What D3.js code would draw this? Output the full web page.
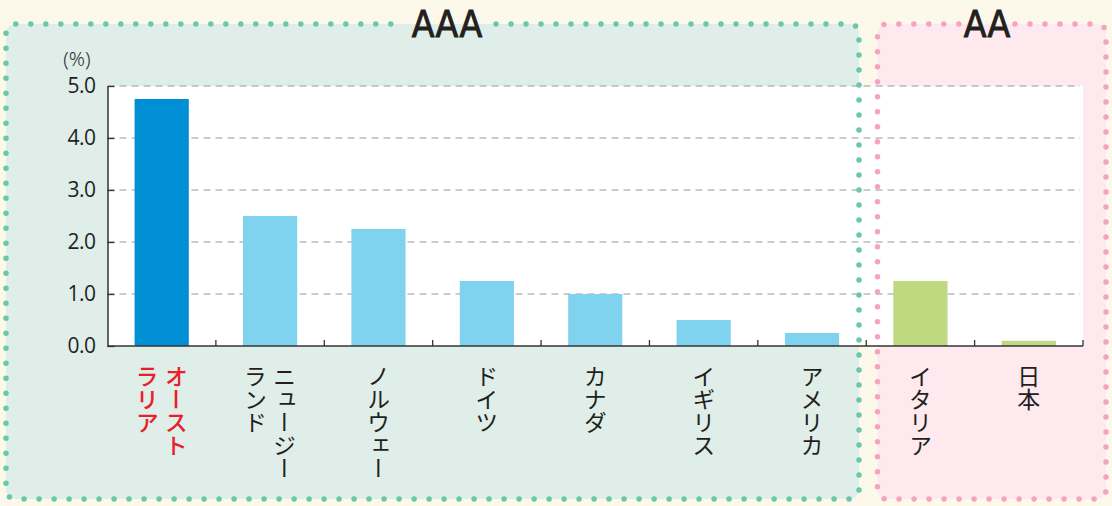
<!DOCTYPE html>
<html><head><meta charset="utf-8">
<script src="https://cdn.jsdelivr.net/npm/d3@7"></script>
<style>
html,body{margin:0;padding:0;background:#fdf9ea;}
svg{display:block;}
</style></head>
<body>
<svg id="chart" width="1112" height="506"></svg>
<script>
// ---- data ----
const categories = ["オーストラリア","ニュージーランド","ノルウェー","ドイツ","カナダ","イギリス","アメリカ","イタリア","日本"];
const labelColumns = [["オースト","ラリア"],["ニュージー","ランド"],["ノルウェー"],["ドイツ"],["カナダ"],["イギリス"],["アメリカ"],["イタリア"],["日本"]];
const values = [4.75, 2.5, 2.25, 1.25, 1.0, 0.5, 0.25, 1.25, 0.1];
const ratings = ["AAA","AAA","AAA","AAA","AAA","AAA","AAA","AA","AA"];
const highlight = ["オーストラリア"];
const yTicks = [0, 1, 2, 3, 4, 5];
const yUnit = "(%)";

// ---- layout ----
const W = 1112, H = 506;
const plot = {left: 107.5, right: 1083, top: 86, bottom: 346};
const svg = d3.select("#chart");

const x = d3.scaleBand().domain(categories).range([plot.left, plot.right]).paddingInner(0.5).paddingOuter(0.25);
const y = d3.scaleLinear().domain([0, 5]).range([plot.bottom, plot.top]);

const groupStyle = {
  AAA: {fill: "#dfeee8", dot: "#68c8a8", x0: 6, x1: 859, y0: 24, y1: 499, bar: "#80d3ee"},
  AA:  {fill: "#fde9ee", dot: "#f5a3c0", x0: 877.5, x1: 1106, y0: 24, y1: 499, bar: "#bed97f"}
};

svg.append("rect").attr("width", W).attr("height", H).attr("fill", "#fdf9ea");

// group fills
const groups = ["AAA", "AA"];
groups.forEach(g => {
  const s = groupStyle[g];
  svg.append("rect").attr("x", s.x0).attr("y", s.y0).attr("width", s.x1 - s.x0).attr("height", s.y1 - s.y0)
    .attr("rx", 9).attr("fill", s.fill);
});

// plot white area
svg.append("rect").attr("x", plot.left).attr("y", plot.top).attr("width", plot.right - plot.left)
  .attr("height", plot.bottom - plot.top).attr("fill", "#ffffff");

// grid
svg.append("g").selectAll("line").data(yTicks.filter(d => d > 0)).join("line")
  .attr("x1", plot.left).attr("x2", plot.right - 3)
  .attr("y1", d => y(d)).attr("y2", d => y(d))
  .attr("stroke", "#999").attr("stroke-width", 1.2).attr("stroke-dasharray", "7,5");

// bars
svg.append("g").selectAll("rect").data(categories).join("rect")
  .attr("x", d => x(d)).attr("width", x.bandwidth())
  .attr("y", (d, i) => y(values[i])).attr("height", (d, i) => y(0) - y(values[i]))
  .attr("fill", (d, i) => highlight.includes(d) ? "#008fd5" : groupStyle[ratings[i]].bar);

// y axis
const yAxis = d3.axisLeft(y).tickValues(yTicks).tickFormat(d3.format(".1f")).tickSizeInner(-7).tickSizeOuter(0).tickPadding(12);
const ya = svg.append("g").attr("transform", `translate(${plot.left},0)`).call(yAxis);
ya.select(".domain").attr("stroke", "#333").attr("stroke-width", 1.5);
ya.selectAll(".tick line").attr("stroke", "#333").attr("stroke-width", 1.3);
ya.selectAll(".tick text").attr("font-family", "'Open Sans', 'Noto Sans', sans-serif").attr("font-size", 21)
  .attr("fill", "#231f20").attr("letter-spacing", "-0.5px");
svg.append("text").attr("x", 77).attr("y", 66).attr("text-anchor", "middle")
  .attr("font-family", "'Noto Sans', 'Open Sans', sans-serif").attr("font-weight", 300).attr("font-size", 20).attr("fill", "#333").text(yUnit);

// x axis line + upward ticks at band boundaries
svg.append("line").attr("x1", plot.left).attr("x2", plot.right).attr("y1", plot.bottom).attr("y2", plot.bottom)
  .attr("stroke", "#333").attr("stroke-width", 1.5);
const step = x.step();
svg.append("g").selectAll("line").data(categories).join("line")
  .attr("x1", d => x(d) - x.paddingOuter() * step + step).attr("x2", d => x(d) - x.paddingOuter() * step + step)
  .attr("y1", plot.bottom).attr("y2", plot.bottom - 6)
  .attr("stroke", "#333").attr("stroke-width", 1.3);

// category labels (vertical, columns right-to-left)
const lab = svg.append("g");
categories.forEach((c, i) => {
  const cols = labelColumns[i];
  const cx = x(c) + x.bandwidth() / 2;
  const gap = 29;
  cols.forEach((t, j) => {
    const off = (cols.length - 1) / 2 * gap - j * gap;
    lab.append("text")
      .attr("x", cx + off).attr("y", 365)
      .attr("style", "writing-mode: vertical-rl; text-orientation: mixed;")
      .attr("font-family", "'Noto Sans CJK JP', sans-serif").attr("font-size", 23)
      .attr("font-weight", highlight.includes(c) ? 500 : 400)
      .attr("fill", highlight.includes(c) ? "#e8202a" : "#231f20")
      .text(t);
  });
});

// dotted borders (open path leaving gap for title)
function borderPath(s, gapL, gapR) {
  const r = 9, p = d3.path();
  p.moveTo(gapR, s.y0);
  p.lineTo(s.x1 - r, s.y0); p.arcTo(s.x1, s.y0, s.x1, s.y0 + r, r);
  p.lineTo(s.x1, s.y1 - r); p.arcTo(s.x1, s.y1, s.x1 - r, s.y1, r);
  p.lineTo(s.x0 + r, s.y1); p.arcTo(s.x0, s.y1, s.x0, s.y1 - r, r);
  p.lineTo(s.x0, s.y0 + r); p.arcTo(s.x0, s.y0, s.x0 + r, s.y0, r);
  p.lineTo(gapL, s.y0);
  return p.toString();
}
const titleX = {AAA: 447, AA: 987};
const titleHalf = {AAA: 49, AA: 28};
groups.forEach(g => {
  const s = groupStyle[g];
  svg.append("path").attr("d", borderPath(s, titleX[g] - titleHalf[g], titleX[g] + titleHalf[g]))
    .attr("fill", "none").attr("stroke", s.dot).attr("stroke-width", 5.5)
    .attr("stroke-linecap", "round").attr("stroke-dasharray", "0 15");
  svg.append("text").attr("x", titleX[g]).attr("y", 37).attr("text-anchor", "middle")
    .attr("font-family", "'DejaVu Sans Condensed', 'DejaVu Sans', sans-serif")
    .attr("style", "font-stretch: condensed;")
    .attr("font-size", 37)
    .attr("fill", "#231f20").attr("stroke", "#231f20").attr("stroke-width", 0.9)
    .text(g);
});
</script>
</body></html>
